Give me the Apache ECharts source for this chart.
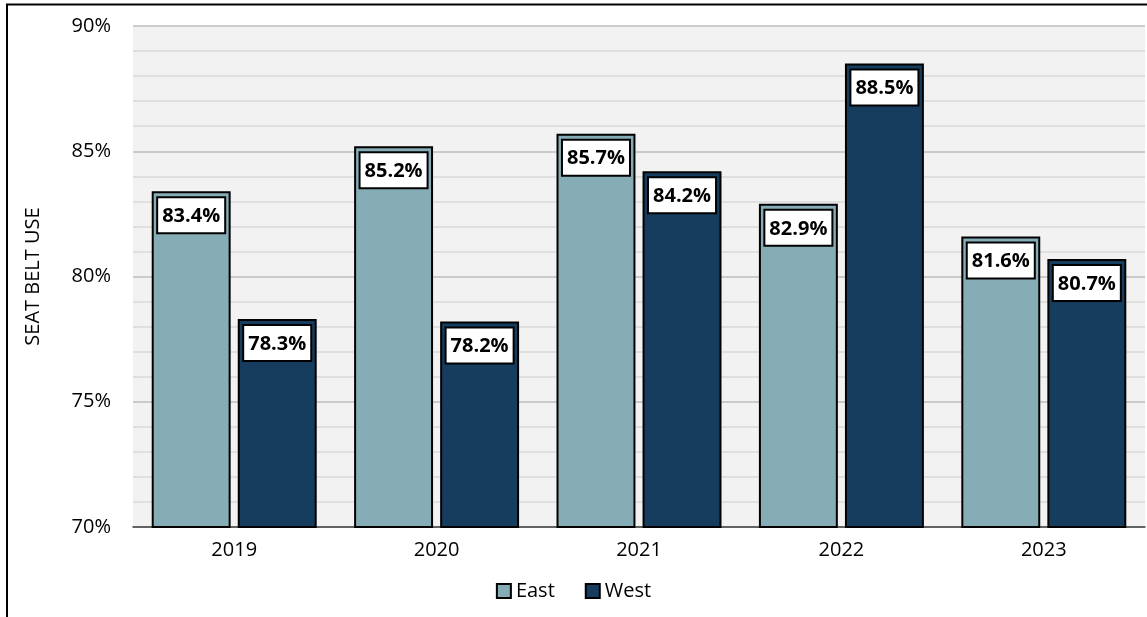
<!DOCTYPE html>
<html><head><meta charset="utf-8">
<script src="https://cdn.jsdelivr.net/npm/echarts@6/dist/echarts.min.js"></script>
<style>html,body{margin:0;padding:0;background:#fff}#c{width:1147px;height:617px}</style>
</head><body><div id="c"></div>
<script>
const categories = ['2019','2020','2021','2022','2023'];
const eastValues = [83.4, 85.2, 85.7, 82.9, 81.6];
const westValues = [78.3, 78.2, 84.2, 88.5, 80.7];
const seriesNames = ['East','West'];
const yTicks = [70, 75, 80, 85, 90];

const FONT = '"Open Sans", "Noto Sans", sans-serif';
const chart = echarts.init(document.getElementById('c'), null, {renderer:'canvas'});
const labelStyle = {
  show: true, position: 'insideTop', distance: 7,
  formatter: p => p.value.toFixed(1) + '%',
  color: '#000', fontWeight: 'bold', fontSize: 20, fontFamily: FONT,
  backgroundColor: '#fff', borderColor: '#000', borderWidth: 2,
  padding: [8, 4, 6, 4]
};
chart.setOption({
  animation: false,
  textStyle: {fontFamily: FONT},
  graphic: [
    {type:'line', shape:{x1:6, y1:4.5, x2:1147, y2:4.5}, style:{stroke:'#000', lineWidth:2}},
    {type:'line', shape:{x1:7, y1:4, x2:7, y2:617}, style:{stroke:'#000', lineWidth:2}}
  ],
  grid: {left:133, right:2, top:26, bottom:90, show:true, backgroundColor:'#f2f2f2', borderWidth:0},
  legend: {
    data: seriesNames, bottom: 11, left: 'center', itemWidth: 14, itemHeight: 14, itemGap: 30,
    icon: 'rect', textStyle: {fontSize: 20, color:'#000', fontFamily: FONT},
    itemStyle: {borderColor:'#000', borderWidth:2}
  },
  xAxis: {
    type:'category', data: categories,
    axisLine:{lineStyle:{color:'#404040', width:1.5}},
    axisTick:{show:false},
    axisLabel:{fontSize:20, color:'#000', margin:13, fontFamily: FONT}
  },
  yAxis: {
    type:'value', min: yTicks[0], max: yTicks[yTicks.length-1], interval: 5,
    name:'SEAT BELT USE', nameLocation:'middle', nameGap: 90, nameRotate: 90,
    nameTextStyle:{fontSize:20, color:'#000', fontFamily: FONT},
    axisLine:{show:false}, axisTick:{show:false},
    axisLabel:{fontSize:20, color:'#000', margin:22, formatter: v => v + '%', fontFamily: FONT},
    splitLine:{lineStyle:{color:'#bdbdbd', width:1.5}},
    minorTick:{show:false, splitNumber:5},
    minorSplitLine:{show:true, lineStyle:{color:'#d9d9d9', width:1.5}}
  },
  series: [
    {name: seriesNames[0], type:'bar', data: eastValues, barWidth: '39%', barGap: '9%',
     itemStyle:{color:'#86adb6', borderColor:'#000', borderWidth:2}, label: labelStyle},
    {name: seriesNames[1], type:'bar', data: westValues, barWidth: '39%', barGap: '9%',
     itemStyle:{color:'#163d5e', borderColor:'#000', borderWidth:2}, label: labelStyle}
  ]
});
</script></body></html>
